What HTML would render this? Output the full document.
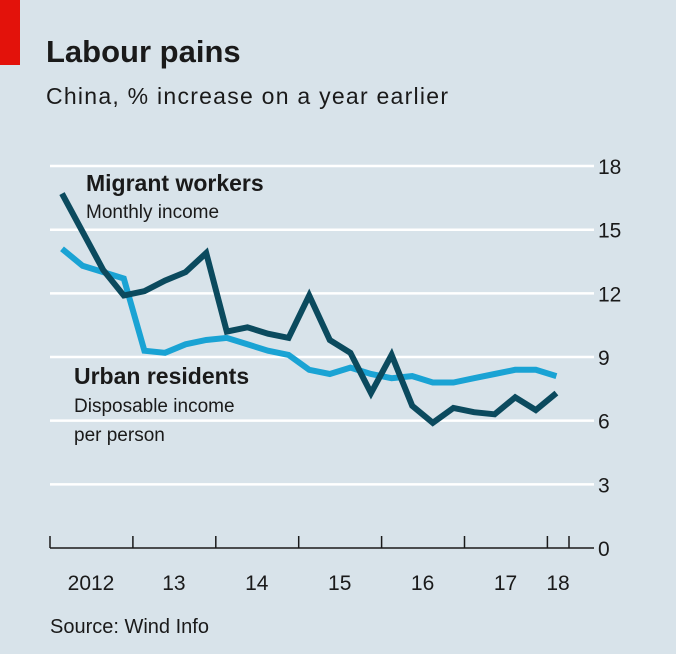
<!DOCTYPE html>
<html><head><meta charset="utf-8"><style>
body{margin:0;background:#d8e3ea;}
svg{display:block;font-family:"Liberation Sans",sans-serif;}
</style></head><body>
<svg width="676" height="654">
<rect width="676" height="654" fill="#d8e3ea"/>
<rect x="0" y="0" width="20" height="65" fill="#e3120b"/>
<text x="46" y="62" font-size="31" font-weight="bold" fill="#1a1a1a">Labour pains</text>
<text x="46" y="104" font-size="23" fill="#1a1a1a" textLength="402">China, % increase on a year earlier</text>
<g id="grid"></g>
<g id="lines"></g>
<text x="86" y="191" font-size="23" font-weight="bold" fill="#1a1a1a">Migrant workers</text>
<text x="86" y="218" font-size="19" fill="#1a1a1a">Monthly income</text>
<text x="74" y="384" font-size="23" font-weight="bold" fill="#1a1a1a">Urban residents</text>
<text x="74" y="412" font-size="19" fill="#1a1a1a">Disposable income</text>
<text x="74" y="441" font-size="19" fill="#1a1a1a">per person</text>
<text x="50" y="633" font-size="20" fill="#1a1a1a">Source: Wind Info</text>
</svg>
<script>
const yTicks=[0,3,6,9,12,15,18];
const yearLabels=["2012","13","14","15","16","17","18"];
const migrant=[16.7,14.9,13.1,11.9,12.1,12.6,13.0,13.9,10.2,10.4,10.1,9.9,11.9,9.8,9.2,7.3,9.1,6.7,5.9,6.6,6.4,6.3,7.1,6.5,7.3];
const urban=[14.1,13.3,13.0,12.7,9.3,9.2,9.6,9.8,9.9,9.6,9.3,9.1,8.4,8.2,8.5,8.2,8.0,8.1,7.8,7.8,8.0,8.2,8.4,8.4,8.1];
const NS="http://www.w3.org/2000/svg";
const y=v=>548-v*21.22;
const x=i=>62+i*20.6;
const yearX=k=>50+k*82.9;
const grid=document.getElementById('grid'),lines=document.getElementById('lines');
function mk(p,tag,a){const e=document.createElementNS(NS,tag);for(const k in a)e.setAttribute(k,a[k]);p.appendChild(e);return e;}
yTicks.forEach(t=>{
  if(t>0){const l=mk(grid,'line',{x1:50,x2:594,y1:y(t),y2:y(t),stroke:'#fff','stroke-width':2.5});
  
  }
  const tx=mk(grid,'text',{x:598,y:y(t)+8,'font-size':21,fill:'#1a1a1a'});tx.textContent=t;
  
  
});
const ax=mk(grid,'line',{x1:50,x2:594,y1:548,y2:548,stroke:'#1a1a1a','stroke-width':1.5});


for(let k=0;k<=6;k++){
  const tk=mk(grid,'line',{x1:yearX(k),x2:yearX(k),y1:548,y2:536,stroke:'#1a1a1a','stroke-width':1.5});
  
  
}
const tk2=mk(grid,'line',{x1:569,x2:569,y1:548,y2:536,stroke:'#1a1a1a','stroke-width':1.5});


yearLabels.forEach((lab,k)=>{
  const cx=k<6?yearX(k)+41:558;
  const t=mk(grid,'text',{x:cx,y:590,'font-size':21,fill:'#1a1a1a','text-anchor':'middle'});t.textContent=lab;
  
  
});
function path(data,col,name){
  const d=data.map((v,i)=>(i?'L':'M')+x(i).toFixed(1)+','+y(v).toFixed(1)).join('');
  const p=mk(lines,'path',{d:d,fill:'none',stroke:col,'stroke-width':6,'stroke-linejoin':'miter'});
  
  
}
path(urban,'#1aa3d4','urban-line');
path(migrant,'#0b4a5e','migrant-line');
</script>
</body></html>
